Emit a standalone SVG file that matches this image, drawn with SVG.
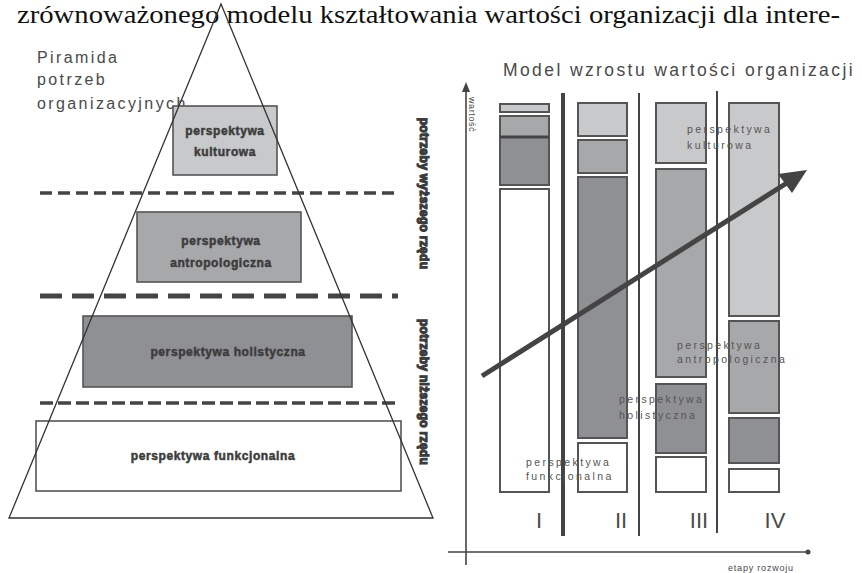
<svg xmlns="http://www.w3.org/2000/svg" width="862" height="573" viewBox="0 0 862 573">
<style>
.lbl{font-family:"Liberation Sans",Arial,sans-serif;fill:#4a4a4a}
.box{stroke:#555;stroke-width:1.6}
.bt{font-family:"Liberation Sans",Arial,sans-serif;font-weight:bold;font-size:12px;fill:#3c3c3c;stroke:#3c3c3c;stroke-width:0.5;text-anchor:middle;letter-spacing:0.6px}
.ct{font-family:"Liberation Sans",Arial,sans-serif;font-size:10.5px;fill:#555;letter-spacing:2.4px}
.rom{font-family:"Liberation Sans",Arial,sans-serif;font-size:22px;fill:#4a4a4a;text-anchor:middle}
.cb{stroke:#555;stroke-width:2}
.l{fill:#c8c9cb}.m{fill:#a7a8aa}.d{fill:#8f9093}.w{fill:#fff}
.dash{stroke:#444;fill:none}
</style>
<rect width="862" height="573" fill="#fff"/>
<text x="17" y="23" font-family="Liberation Serif,'Times New Roman',serif" font-size="26" fill="#111" textLength="823" lengthAdjust="spacingAndGlyphs">zrównoważonego modelu kształtowania wartości organizacji dla intere-</text>

<g id="pyramid-title">
<text class="lbl" x="37" y="63" font-size="16" letter-spacing="2.4">Piramida</text>
<text class="lbl" x="37" y="85" font-size="16" letter-spacing="2.4">potrzeb</text>
<text class="lbl" x="37" y="109" font-size="16" letter-spacing="2.4">organizacyjnych</text>
</g>

<g id="dashed-lines">
<line class="dash" x1="40" y1="193" x2="398" y2="193" stroke-width="3.5" stroke-dasharray="12 6"/>
<line class="dash" x1="40" y1="296" x2="398" y2="296" stroke-width="5" stroke-dasharray="22 10"/>
<line class="dash" x1="40" y1="403" x2="398" y2="403" stroke-width="3.5" stroke-dasharray="13 5"/>
</g>

<g id="p-kulturowa">
<rect class="box l" x="173" y="106" width="104" height="69"/>
<text class="bt" x="225" y="135">perspektywa</text>
<text class="bt" x="225" y="156">kulturowa</text>
</g>
<g id="p-antropologiczna">
<rect class="box m" x="137" y="212" width="164" height="70"/>
<text class="bt" x="221" y="245">perspektywa</text>
<text class="bt" x="221" y="267">antropologiczna</text>
</g>
<g id="p-holistyczna">
<rect class="box d" x="83" y="316" width="269" height="71"/>
<text class="bt" x="228" y="356">perspektywa holistyczna</text>
</g>
<g id="p-funkcjonalna">
<rect class="box w" x="36" y="421" width="365" height="70"/>
<text class="bt" x="213" y="460">perspektywa funkcjonalna</text>
</g>

<g id="pyramid">
<polygon points="221,4 9,518 433,518" fill="none" stroke="#333" stroke-width="1.3"/>
</g>

<g id="side-labels">
<text class="bt" transform="translate(420,193.5) rotate(90)" font-size="13" style="stroke-width:1.2;letter-spacing:0.3px">potrzeby wyższego rzędu</text>
<text class="bt" transform="translate(420,392) rotate(90)" font-size="13" style="stroke-width:1.2;letter-spacing:0.3px">potrzeby niższego rzędu</text>
</g>

<g id="chart-title">
<text class="lbl" x="503" y="76" font-size="17.5" letter-spacing="2.4">Model wzrostu wartości organizacji</text>
</g>

<g id="axes">
<line x1="466" y1="88" x2="466" y2="565" stroke="#444" stroke-width="1.6"/>
<polygon points="466,82 462,92 470,92" fill="#444"/>
<line x1="448" y1="552" x2="806" y2="552" stroke="#444" stroke-width="1.6"/>
<circle cx="808" cy="552" r="2.5" fill="#444"/>
<text class="lbl" transform="translate(469,97) rotate(90)" font-size="9" letter-spacing="0.6">wartość</text>
<text class="lbl" x="728" y="571" font-size="9" letter-spacing="0.8">etapy rozwoju</text>
</g>

<g id="separators">
<line x1="563" y1="93" x2="563" y2="536" stroke="#444" stroke-width="4"/>
<line x1="639" y1="93" x2="639" y2="536" stroke="#444" stroke-width="2"/>
<line x1="717" y1="91" x2="717" y2="533" stroke="#444" stroke-width="2"/>
</g>

<g id="stage-I">
<rect class="cb l" x="500" y="104" width="49" height="8"/>
<rect class="cb m" x="500" y="116" width="49" height="21"/>
<rect class="cb d" x="500" y="137" width="49" height="48"/>
<line x1="500" y1="137" x2="549" y2="137" stroke="#444" stroke-width="3"/>
<rect class="cb w" x="500" y="189" width="49" height="303"/>
<text class="rom" x="539" y="528">I</text>
</g>
<g id="stage-II">
<rect class="cb l" x="578" y="103" width="49" height="33"/>
<rect class="cb m" x="578" y="140" width="49" height="33"/>
<rect class="cb d" x="578" y="177" width="49" height="261"/>
<rect class="cb w" x="578" y="443" width="49" height="49"/>
<text class="rom" x="621" y="528">II</text>
</g>
<g id="stage-III">
<rect class="cb l" x="656" y="103" width="50" height="60"/>
<rect class="cb m" x="656" y="169" width="50" height="208"/>
<rect class="cb d" x="656" y="384" width="50" height="69"/>
<rect class="cb w" x="656" y="457" width="50" height="35"/>
<text class="rom" x="699" y="528">III</text>
</g>
<g id="stage-IV">
<rect class="cb l" x="729" y="103" width="50" height="213"/>
<rect class="cb m" x="729" y="321" width="50" height="92"/>
<rect class="cb d" x="729" y="418" width="50" height="45"/>
<rect class="cb w" x="729" y="469" width="50" height="23"/>
<text class="rom" x="775" y="528">IV</text>
</g>

<g id="growth-arrow">
<line x1="482" y1="376" x2="790" y2="181" stroke="#444" stroke-width="5"/>
<polygon points="807,170 778,174 792,193" fill="#444"/>
</g>

<g id="chart-labels">
<text class="ct" x="687" y="133">perspektywa</text>
<text class="ct" x="687" y="149">kulturowa</text>
<text class="ct" x="677" y="349">perspektywa</text>
<text class="ct" x="677" y="363">antropologiczna</text>
<text class="ct" x="619" y="403">perspektywa</text>
<text class="ct" x="619" y="419">holistyczna</text>
<text class="ct" x="526" y="466">perspektywa</text>
<text class="ct" x="526" y="480">funkcjonalna</text>
</g>
</svg>
